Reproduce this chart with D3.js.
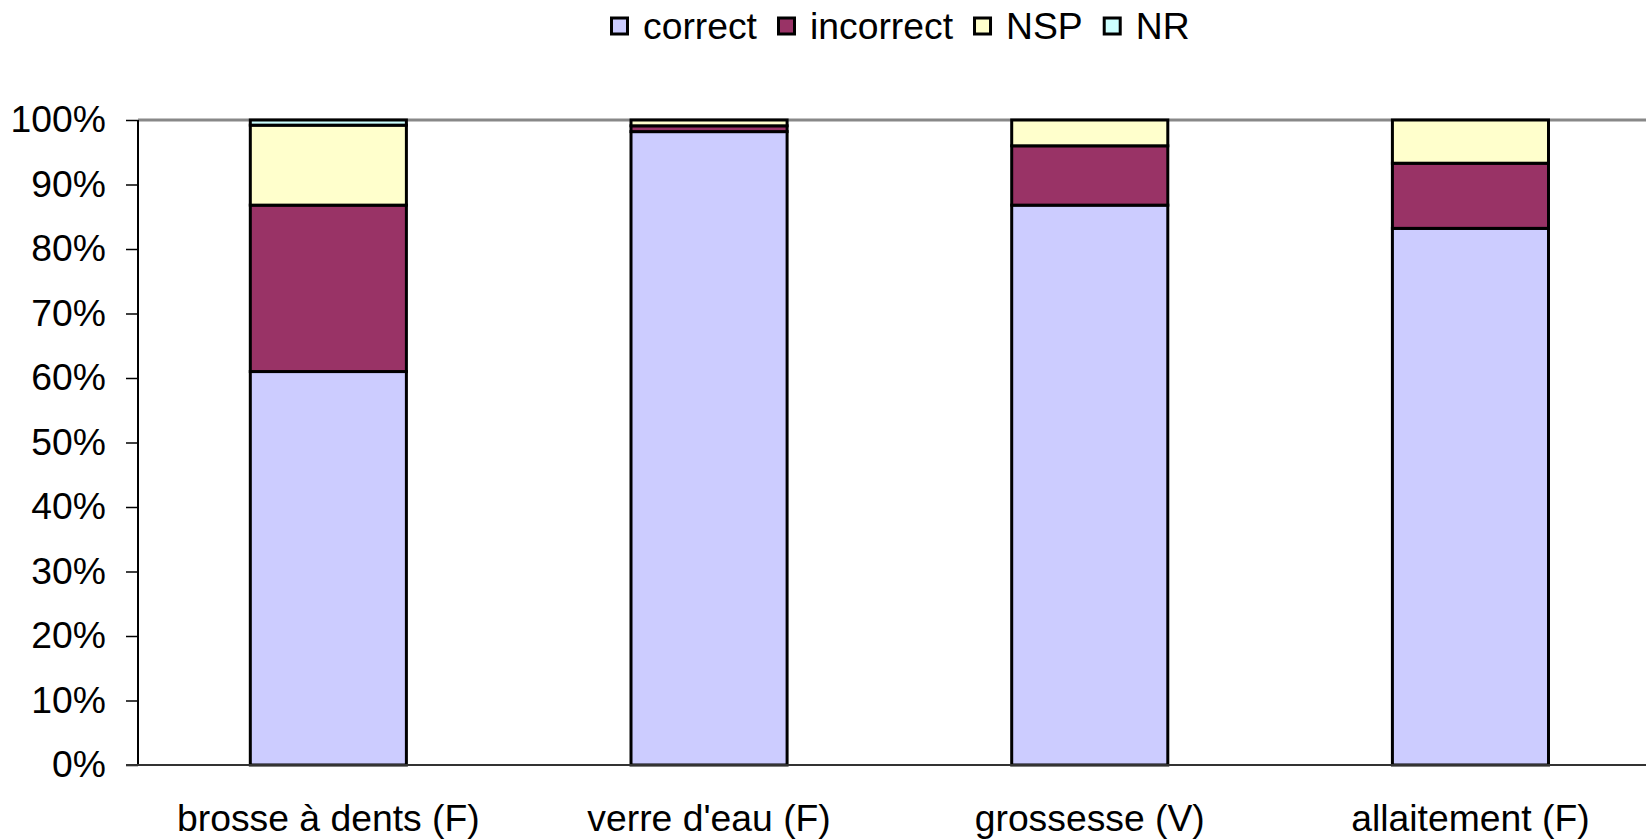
<!DOCTYPE html>
<html><head><meta charset="utf-8">
<script src="https://cdn.jsdelivr.net/npm/d3@7/dist/d3.min.js"></script>
<style>body{margin:0;background:#fff}svg{display:block}text{font-family:"Liberation Sans",Arial,sans-serif}</style>
</head><body><svg id="c" width="1646" height="840"></svg>
<script>
const categories = ["brosse à dents (F)", "verre d'eau (F)", "grossesse (V)", "allaitement (F)"];
const seriesNames = ["correct", "incorrect", "NSP", "NR"];
const correct   = [61.0, 98.2, 86.8, 83.2];
const incorrect = [25.8, 0.9, 9.2, 10.1];
const nsp       = [12.4, 0.9, 4.0, 6.7];
const nr        = [0.8, 0.0, 0.0, 0.0];
const yTicks = [0,10,20,30,40,50,60,70,80,90,100];
const colors = ["#CCCCFF", "#993366", "#FFFFCC", "#CCFFFF"];

(function(){
const svg = d3.select("#c");
const pLeft = 138, pTop = 120, pBottom = 765, band = 380.7, fs = 37.3;
const x = d3.scaleBand().domain(categories).range([pLeft, pLeft + band*categories.length]).paddingInner(0.59).paddingOuter(0.295);
const y = d3.scaleLinear().domain([0,100]).range([pBottom, pTop]);

const table = categories.map((c,i)=>({cat:c, correct:correct[i], incorrect:incorrect[i], NSP:nsp[i], NR:nr[i]}));
const stacked = d3.stack().keys(seriesNames)(table);

svg.append("line").attr("x1", pLeft).attr("x2", 1646).attr("y1", y(100)).attr("y2", y(100))
  .attr("stroke", "#888").attr("stroke-width", 3);

const g = svg.append("g");
stacked.forEach((s, si) => {
  g.selectAll(null).data(s.filter(d => d[1]-d[0] > 0)).enter().append("rect")
    .attr("x", d => x(d.data.cat))
    .attr("width", x.bandwidth())
    .attr("y", d => y(d[1]))
    .attr("height", d => y(d[0]) - y(d[1]))
    .attr("fill", colors[si])
    .attr("stroke", "#000").attr("stroke-width", 3);
});

const ya = svg.append("g").attr("transform", `translate(${pLeft},0)`)
  .call(d3.axisLeft(y).tickValues(yTicks).tickFormat(d => d + "%").tickSize(12).tickPadding(20));
ya.select(".domain").attr("stroke", "#000").attr("stroke-width", 2).attr("d", `M0,${pTop}V${pBottom}`);
ya.selectAll(".tick line").attr("stroke", "#000").attr("stroke-width", 1.5);
ya.selectAll(".tick text").attr("font-size", fs).attr("fill", "#000").attr("font-family", "Liberation Sans, Arial, sans-serif");

const xa = svg.append("g").attr("transform", `translate(0,${pBottom})`)
  .call(d3.axisBottom(x).tickSize(0).tickPadding(40));
xa.select(".domain").attr("stroke", "#333").attr("stroke-width", 2).attr("d", `M${pLeft-12},0H1646`);
xa.selectAll(".tick text").attr("font-size", fs).attr("fill", "#000").attr("font-family", "Liberation Sans, Arial, sans-serif");

const legend = svg.append("g");
let lx = 610;
seriesNames.forEach((n, i) => {
  legend.append("rect").attr("x", lx + 1.5).attr("y", 18).attr("width", 16).attr("height", 16)
    .attr("fill", colors[i]).attr("stroke", "#000").attr("stroke-width", 3);
  const t = legend.append("text").attr("x", lx + 33).attr("y", 39).attr("font-size", fs).attr("fill", "#000").text(n);
  lx += 33 + t.node().getComputedTextLength() + 20;
});
})();
</script></body></html>
